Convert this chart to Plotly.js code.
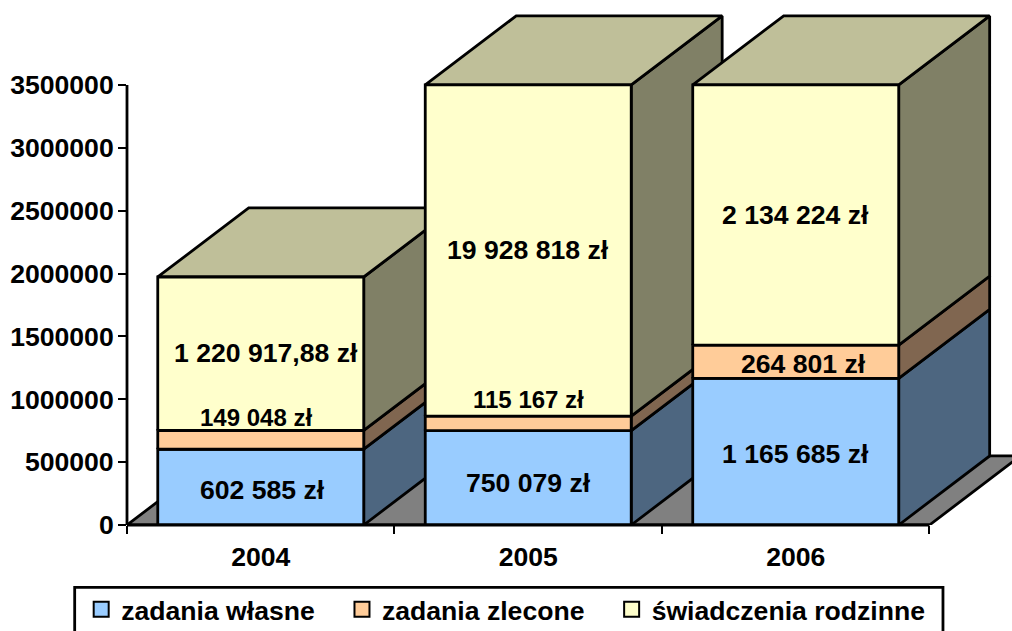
<!DOCTYPE html>
<html>
<head>
<meta charset="utf-8">
<script src="https://cdn.plot.ly/plotly-3.0.1.min.js"></script>
<style>html,body{margin:0;padding:0;background:#fff;overflow:hidden}</style>
</head>
<body>
<div id="chart" style="width:1012px;height:631px"></div>
<script>
const categories = ['2004', '2005', '2006'];
const seriesNames = ['zadania własne', 'zadania zlecone', 'świadczenia rodzinne'];
const zadaniaWlasne = [602585, 750079, 1165685];
const zadaniaZlecone = [149048, 115167, 264801];
const swiadczeniaRodzinne = [1220917.88, 19928818, 2134224];
const labelsWlasne = ['602 585 zł', '750 079 zł', '1 165 685 zł'];
const labelsZlecone = ['149 048 zł', '115 167 zł', '264 801 zł'];
const labelsRodzinne = ['1 220 917,88 zł', '19 928 818 zł', '2 134 224 zł'];
const yTicks = [0, 500000, 1000000, 1500000, 2000000, 2500000, 3000000, 3500000];
const frontColors = ['#99CCFF', '#FFCC99', '#FFFFCC'];
const sideColors = ['#4D6680', '#806650', '#808066'];
const topColor = '#BFBF99';
const floorColor = '#808080';

const axisMax = 3500000;
const barHalf = 0.385, depthX = 0.34, depthY = 549000;
const values = [zadaniaWlasne, zadaniaZlecone, swiadczeniaRodzinne];
const LW = 2.8;
const FONT = '"Liberation Sans", Arial, sans-serif';

// Plot area is larger than the axis scale so the 3-D depth faces are not clipped.
const plotLeft = 127.3, plotBottom = 525.5, plotTop = 8;
const pxPerCat = 267.4, pxPerVal = 440.5 / axisMax;
const plotW = 1012 - plotLeft, plotH = plotBottom - plotTop;
const xMax = -0.5 + plotW / pxPerCat, yMax = plotH / pxPerVal;
const px = v => (v - plotLeft) / plotW, py = v => (plotBottom - v) / plotH;

function poly(xs, ys, color) {
  return {type: 'scatter', mode: 'lines', x: xs.concat(xs[0]), y: ys.concat(ys[0]),
    fill: 'toself', fillcolor: color, line: {color: '#000', width: LW, simplify: false},
    hoverinfo: 'skip', showlegend: false};
}

const traces = [];
// legend-carrying traces, underneath everything
const legendPad = ['\u00A0\u00A0\u00A0', '\u00A0\u00A0\u00A0', ''];
seriesNames.forEach((n, s) => traces.push({type: 'scatter', mode: 'markers',
  x: [0], y: [100000], name: n + legendPad[s],
  marker: {symbol: 'square', size: 15, color: frontColors[s], line: {color: '#000', width: 2}}, hoverinfo: 'skip'}));

// floor
traces.push(poly([-0.5, 2.5, 2.5 + depthX, -0.5 + depthX], [0, 0, depthY, depthY], floorColor));

const annotations = [];
const labelSets = [labelsWlasne, labelsZlecone, labelsRodzinne];
const labelSize = [[26.6, 26.6, 26.6], [24, 24, 26.6], [26.6, 26.6, 26.6]];
const labelShift = [[[2, -3], [0, -5], [0, -2]], [[-5, 22], [0, 24], [8, -2]], [[5, 1], [0, 1], [0, 0]]];

categories.forEach((c, i) => {
  const l = i - barHalf, r = i + barHalf;
  let cum = 0;
  const segs = values.map(v => {
    const lo = Math.min(cum, axisMax);
    cum += v[i];
    return [lo, Math.min(cum, axisMax)];
  });
  segs.forEach(([lo, hi], s) => {
    traces.push(poly([r, r + depthX, r + depthX, r], [lo, lo + depthY, hi + depthY, hi], sideColors[s]));
  });
  const h = segs[2][1];
  traces.push(poly([l, r, r + depthX, l + depthX], [h, h, h + depthY, h + depthY], topColor));
  segs.forEach(([lo, hi], s) => {
    traces.push(poly([l, r, r, l], [lo, lo, hi, hi], frontColors[s]));
    annotations.push({xref: 'x', yref: 'y', x: i, y: (lo + hi) / 2, text: labelSets[s][i], showarrow: false,
      xanchor: 'center', yanchor: 'middle', xshift: labelShift[s][i][0], yshift: labelShift[s][i][1],
      font: {family: FONT, size: labelSize[s][i], color: '#000', weight: 700}});
  });
});

const tickFont = {family: FONT, size: 26.6, color: '#000', weight: 700};
const layout = {
  width: 1012, height: 631,
  margin: {l: plotLeft, r: 0, t: plotTop, b: 631 - plotBottom, pad: 0, autoexpand: false},
  paper_bgcolor: '#fff', plot_bgcolor: 'rgba(0,0,0,0)',
  showlegend: true,
  legend: {orientation: 'h', x: px(81.5), xanchor: 'left', y: py(586), yanchor: 'top',
    bgcolor: 'rgba(0,0,0,0)', borderwidth: 0, traceorder: 'normal',
    font: {family: FONT, size: 26.6, color: '#000', weight: 700}},
  xaxis: {type: 'linear', range: [-0.5, xMax], tickvals: [0, 1, 2], ticktext: categories, tickfont: tickFont,
    ticks: '', ticklabelstandoff: 13,
    minor: {tickvals: [-0.5, 0.5, 1.5, 2.5], ticks: 'outside', ticklen: 8, tickwidth: 2, tickcolor: '#000', showgrid: false},
    showgrid: false, zeroline: false, showline: false, fixedrange: true},
  yaxis: {range: [0, yMax], tickvals: yTicks, tickformat: 'd', tickfont: tickFont,
    ticks: 'outside', ticklen: 8, tickwidth: 2, tickcolor: '#000', ticklabelstandoff: -1, showgrid: false, zeroline: false,
    showline: false, fixedrange: true},
  shapes: [
    {type: 'line', xref: 'paper', yref: 'y', x0: 0, x1: 0, y0: 0, y1: axisMax, line: {color: '#000', width: LW}, layer: 'above'},
    {type: 'line', xref: 'x', yref: 'paper', x0: -0.5, x1: 2.5, y0: 0, y1: 0, line: {color: '#000', width: LW}, layer: 'above'},
    {type: 'rect', xref: 'paper', yref: 'paper', x0: px(75), x1: px(943), y0: py(588), y1: py(650),
      line: {color: '#000', width: LW}, fillcolor: '#fff', layer: 'below'}
  ],
  annotations: annotations
};
Plotly.newPlot('chart', traces, layout, {displayModeBar: false, staticPlot: true});
</script>
</body>
</html>
